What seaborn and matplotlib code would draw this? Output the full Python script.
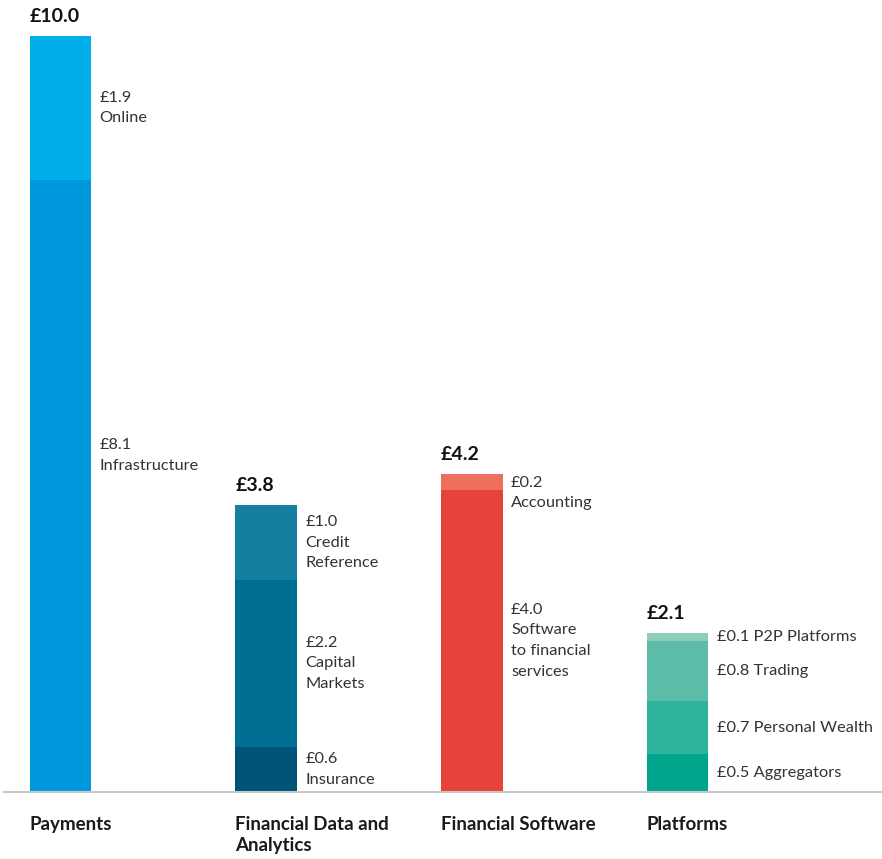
import matplotlib
matplotlib.use('Agg')
import matplotlib.pyplot as plt
import seaborn as sns
import pandas as pd

categories = ['Payments', 'Financial Data and\nAnalytics', 'Financial Software', 'Platforms']
totals = [10.0, 3.8, 4.2, 2.1]

# segments per category, bottom to top
payments_values = [8.1, 1.9]
payments_names = ['Infrastructure', 'Online']
payments_colors = ['#0098dc', '#00aeea']

data_values = [0.6, 2.2, 1.0]
data_names = ['Insurance', 'Capital\nMarkets', 'Credit\nReference']
data_colors = ['#005478', '#006f94', '#157fa0']

software_values = [4.0, 0.2]
software_names = ['Software\nto financial\nservices', 'Accounting']
software_colors = ['#e8423b', '#ee6f5e']

platform_values = [0.5, 0.7, 0.8, 0.1]
platform_names = ['Aggregators', 'Personal Wealth', 'Trading', 'P2P Platforms']
platform_colors = ['#00a58c', '#2fb29c', '#5bbca8', '#8ecdbc']

# small vertical nudges (points) for a couple of labels
label_nudge = {'Infrastructure': 22, 'Accounting': -8}

stacks = [
    (payments_values, payments_names, payments_colors, '\n'),
    (data_values, data_names, data_colors, '\n'),
    (software_values, software_names, software_colors, '\n'),
    (platform_values, platform_names, platform_colors, ' '),
]

rows = []
for cat, (vals, names, cols, sep) in zip(categories, stacks):
    bottom = 0.0
    n = len(vals)
    for k, (v, name, c) in enumerate(zip(vals, names, cols)):
        rows.append({'category': cat, 'segment': name, 'value': v,
                     'bottom': bottom, 'top': bottom + v, 'color': c,
                     'depth': n - 1 - k, 'label': '£%.1f%s%s' % (v, sep, name)})
        bottom += v
df = pd.DataFrame(rows)

sns.set_style('white')
plt.rcParams['font.family'] = ['Lato', 'DejaVu Sans']

fig = plt.figure(figsize=(8.82, 8.59), dpi=100)
ax = fig.add_axes([4 / 882, 67 / 859, 878 / 882, 792 / 859])

bar_w = 0.3
palette = dict(zip(df['segment'], df['color']))
# draw cumulative tops from the tallest down so lower segments overlay
for d in sorted(df['depth'].unique()):
    sub = df[df['depth'] == d]
    sns.barplot(data=sub, x='category', y='top', hue='segment', palette=palette,
                order=categories, dodge=False, width=bar_w, errorbar=None,
                saturation=1, linewidth=0, legend=False, ax=ax)

cat_pos = {c: i for i, c in enumerate(categories)}
for _, r in df.iterrows():
    x = cat_pos[r['category']] + bar_w / 2
    y = (r['bottom'] + r['top']) / 2
    ax.annotate(r['label'], xy=(x, y), xytext=(6, label_nudge.get(r['segment'], 0)),
                textcoords='offset points', ha='left', va='center',
                fontsize=11.8, color='#333333', linespacing=1.6)

for i, t in enumerate(totals):
    ax.annotate('£%.1f' % t, xy=(i - bar_w / 2, t), xytext=(0, 8), textcoords='offset points',
                ha='left', va='bottom', fontsize=14, fontweight='bold', color='#111111')

for i, c in enumerate(categories):
    ax.annotate(c, xy=(i - bar_w / 2, 0), xycoords=('data', 'axes fraction'),
                xytext=(0, -17), textcoords='offset points', ha='left', va='top',
                fontsize=13.5, fontweight='bold', color='#1a1a1a', linespacing=1.3)

ax.set_xlim(-0.275, 3.994)
ax.set_ylim(0, 10.476)
ax.set_xticks([])
ax.set_yticks([])
ax.set_xlabel('')
ax.set_ylabel('')
for s in ['top', 'left', 'right']:
    ax.spines[s].set_visible(False)
ax.spines['bottom'].set_color('#c8c8c8')
ax.spines['bottom'].set_linewidth(1.5)

fig.savefig('out.png', dpi=100)
